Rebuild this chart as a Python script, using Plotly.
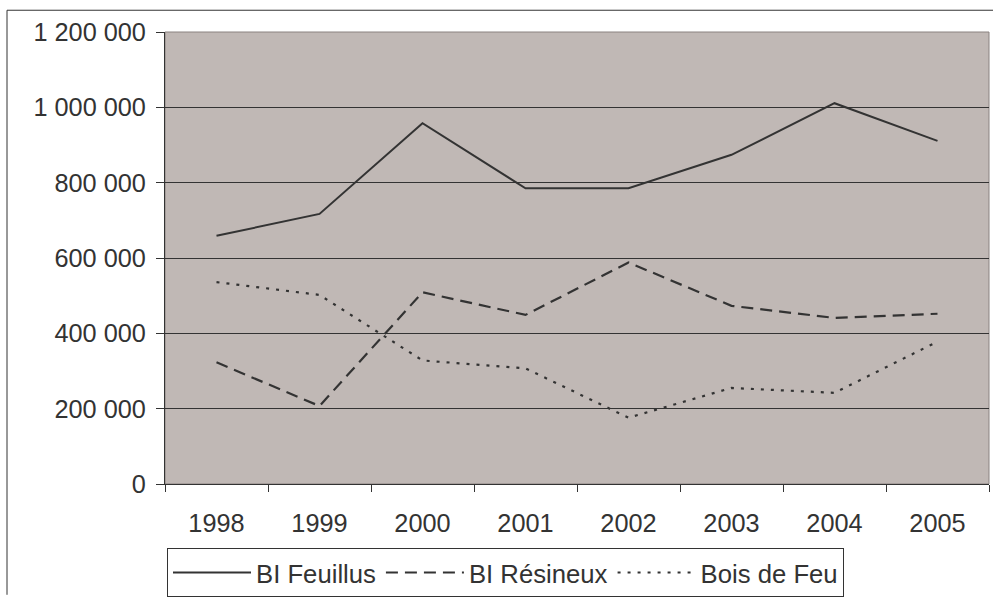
import plotly.graph_objects as go

years = ["1998", "1999", "2000", "2001", "2002", "2003", "2004", "2005"]
bi_feuillus = [659000, 717000, 958000, 785000, 785000, 874000, 1011000, 911000]
bi_resineux = [323000, 207000, 509000, 449000, 588000, 473000, 441000, 452000]
bois_de_feu = [536000, 502000, 328000, 307000, 176000, 255000, 242000, 378000]

LINE = "#333333"
FONT = dict(family="Liberation Sans, Arial, sans-serif", size=25.3, color="#333333")
LEGEND_FONT = dict(family="Liberation Sans, Arial, sans-serif", size=25.7, color="#333333")

fig = go.Figure()
fig.add_trace(go.Scatter(x=years, y=bi_feuillus, name="BI Feuillus", mode="lines",
                         line=dict(color=LINE, width=2)))
fig.add_trace(go.Scatter(x=years, y=bi_resineux, name="BI Résineux", mode="lines",
                         line=dict(color=LINE, width=2.2, dash="12px,7px")))
fig.add_trace(go.Scatter(x=years, y=bois_de_feu, name="Bois de Feu", mode="lines",
                         line=dict(color=LINE, width=2.2, dash="3px,7px")))

L, R, T, B = 165, 4, 32, 112
W, H = 993, 601
pw, ph = W - L - R, H - T - B

def px_x(p):
    return (p - L) / pw

def px_y(p):
    return (H - B - p) / ph

fig.update_layout(
    width=W, height=H,
    margin=dict(l=L, r=R, t=T, b=B, pad=0),
    paper_bgcolor="white",
    plot_bgcolor="#C0B8B5",
    font=FONT,
    separators=", ",
    showlegend=True,
    legend=dict(
        orientation="h",
        x=px_x(167), y=px_y(554), xanchor="left", yanchor="top",
        bordercolor="#333333", borderwidth=1, bgcolor="white",
        itemwidth=78, font=LEGEND_FONT,
        tracegroupgap=0,
    ),
    xaxis=dict(
        type="category", tickson="boundaries", range=[-0.5, 7.5],
        showgrid=False, showline=True, linecolor=LINE, linewidth=1,
        ticks="outside", ticklen=7, tickcolor=LINE, tickwidth=1,
        ticklabelstandoff=17,
        zeroline=False,
    ),
    yaxis=dict(
        range=[0, 1200000], tickmode="linear", tick0=0, dtick=200000,
        tickformat=",d",
        showgrid=True, gridcolor=LINE, gridwidth=1,
        showline=True, linecolor=LINE, linewidth=1,
        ticks="outside", ticklen=8, tickcolor=LINE, tickwidth=1,
        ticklabelstandoff=5,
        zeroline=False,
    ),
    shapes=[
        dict(type="rect", xref="paper", yref="paper", x0=0, x1=1, y0=0, y1=1,
             line=dict(color="#8a8280", width=1), fillcolor="rgba(0,0,0,0)", layer="below"),
        dict(type="line", xref="paper", yref="paper", x0=px_x(7), x1=px_x(993),
             y0=px_y(10), y1=px_y(10), line=dict(color="#333333", width=1)),
        dict(type="line", xref="paper", yref="paper", x0=px_x(7), x1=px_x(7),
             y0=px_y(10), y1=px_y(601), line=dict(color="#333333", width=1)),
    ],
)

fig.write_html(
    "out.html",
    config={"displayModeBar": False},
    post_script="document.body.style.margin='0';document.body.style.overflow='hidden';",
)
